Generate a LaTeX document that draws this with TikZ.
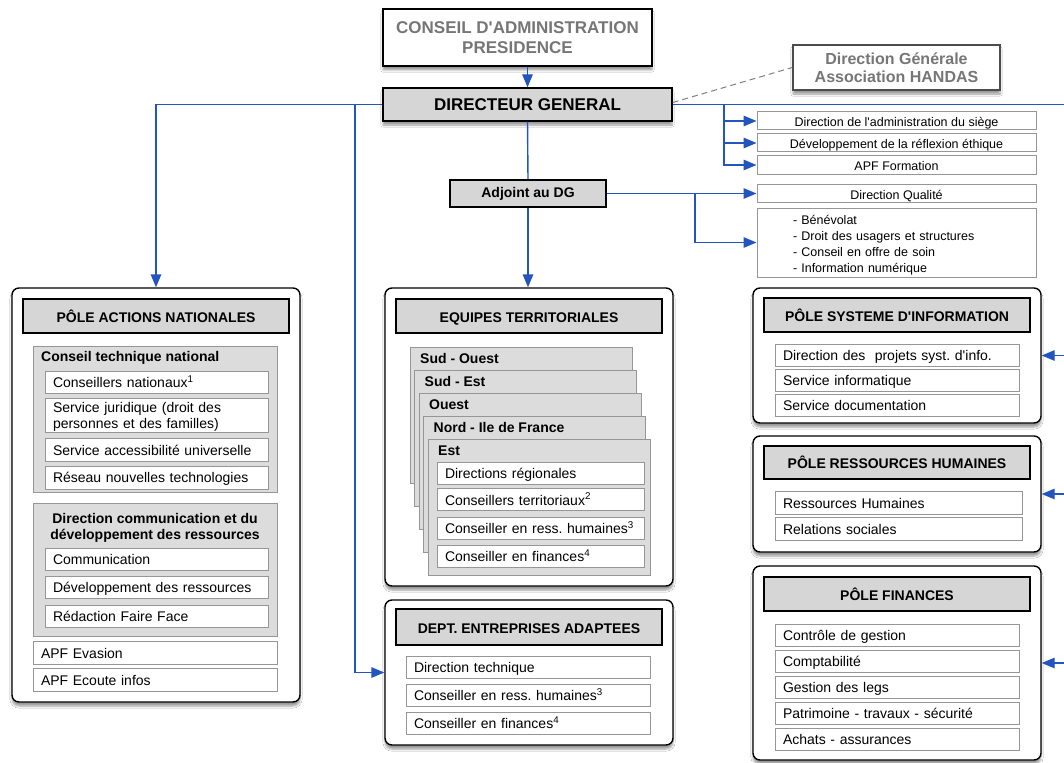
\documentclass[tikz,border=0pt]{standalone}
\usepackage{fontspec}
\setmainfont{Liberation Sans}
\usepackage{xcolor}
\usepackage{tikz}
\usetikzlibrary{arrows.meta,positioning,shadows.blur}
\definecolor{flowblue}{RGB}{35,85,190}
\definecolor{headfill}{RGB}{214,214,214}
\definecolor{grpfill}{RGB}{220,220,220}
\definecolor{boxline}{RGB}{150,150,150}
\definecolor{titlegray}{RGB}{118,118,118}
\newcommand\fitem{\fontsize{14}{16}\selectfont}
\newcommand\fhead{\bfseries\fontsize{14}{16}\selectfont}
\newcommand\fsmall{\fontsize{12.5}{16}\selectfont}
\newcommand\fbig{\bfseries\fontsize{17}{20}\selectfont}
\newcommand\fmid{\bfseries\fontsize{16}{18}\selectfont}
\newcommand\apos{\textquotesingle}
\frenchspacing
\hyphenpenalty=10000
\exhyphenpenalty=10000
\tikzset{
  flow/.style={flowblue, line width=1.4pt},
  arr/.style={flow, -{Triangle[length=13pt,width=10.5pt]}},
  shade/.style={blur shadow={shadow xshift=0pt, shadow yshift=-4pt, shadow blur steps=6, shadow opacity=40}},
  outerbox/.style={draw=black, line width=1.4pt, fill=white, rounded corners=7pt, inner sep=0pt, shade},
  headbox/.style={draw=black, line width=1.2pt, fill=headfill, minimum width=266pt, minimum height=34pt, inner sep=0pt, text height=14pt, text depth=2pt, font=\fhead},
  grpbox/.style={draw=boxline, line width=1pt, fill=grpfill, inner sep=0pt},
  itembox/.style={draw=boxline, line width=1pt, fill=white, inner xsep=8pt, inner ysep=0pt, text width=#1, align=left, minimum height=22pt, font=\fitem, execute at begin node={\rule[-2pt]{0pt}{15pt}}},
  smallbase/.style={draw=boxline, line width=1pt, fill=white, minimum width=279pt, minimum height=18pt, inner sep=0pt, font=\fsmall},
  smallbox/.style={smallbase, text height=13pt, text depth=2pt},
}

\begin{document}
\begin{tikzpicture}[x=1pt,y=-1pt]
  \useasboundingbox[fill=white] (0,0) rectangle (1064,762);
  % top of the chart
  \node[draw=black, line width=1.4pt, fill=white, shade, minimum width=269pt, minimum height=57pt, inner sep=0pt, align=center, font=\fbig, text=titlegray] (ca) at (517.5,37.5) {CONSEIL D\apos ADMINISTRATION\\PRESIDENCE};
  \node[draw=black, line width=1.4pt, fill=headfill, shade, minimum width=289pt, minimum height=33pt, inner sep=0pt, font=\fbig] (dg) at (527.5,104.5) {DIRECTEUR GENERAL};
  \node[draw=black!70, line width=1.4pt, fill=white, shade, minimum width=207pt, minimum height=45pt, inner sep=0pt, align=center, font=\fmid, text=titlegray] (dgh) at (896.5,67.5) {Direction Générale\\Association HANDAS};
  \node[draw=black, line width=1.2pt, fill=headfill, minimum width=156pt, minimum height=27pt, inner sep=0pt, font=\fhead] (adj) at (528,193.5) {Adjoint au DG};
  % services attached to the DG
  \node[smallbox] (ds1) at (896.5,121) {Direction de l\apos administration du siège};
  \node[smallbox] (ds2) at (896.5,143) {Développement de la réflexion éthique};
  \node[smallbox] (ds3) at (896.5,165) {APF Formation};
  \node[smallbox] (dq) at (896.5,193.5) {Direction Qualité};
  \node[smallbase, inner xsep=36pt, text width=207pt, align=left, minimum height=69pt] (lst) at (896.5,242.5) {\rule{0pt}{15pt}- Bénévolat\\- Droit des usagers et structures\\- Conseil en offre de soin\\- Information numérique};

  % pole actions nationales
  \node[outerbox, minimum width=288pt, minimum height=414pt] (pan) at (156,495) {};
  \node[headbox] (panh) at (156,316) {PÔLE ACTIONS NATIONALES};
  \node[grpbox, minimum width=244pt, minimum height=146pt] (ctn) at (155,419) {};
  \node[anchor=west, inner sep=0pt, font=\fhead] (ctnt) at (41,358) {Conseil technique national};
  \node[itembox=207pt] (cn1) at (156.5,382) {Conseillers nationaux\textsuperscript{1}};
  \node[itembox=207pt, minimum height=34pt] (cn2) at (156.5,415) {Service juridique (droit des personnes et des familles)};
  \node[itembox=207pt, minimum height=23pt] (cn3) at (156.5,449.5) {Service accessibilité universelle};
  \node[itembox=207pt, minimum height=23pt] (cn4) at (156.5,477.5) {Réseau nouvelles technologies};
  \node[grpbox, minimum width=244pt, minimum height=133pt] (dcr) at (155,569.5) {};
  \node[inner sep=0pt, align=center, font=\fhead] (dcrt) at (155,527.5) {Direction communication et du\\développement des ressources};
  \foreach \t [count=\i] in {Communication, Développement des ressources, Rédaction Faire Face}
    \node[itembox=207pt] (dc\i) at (156.5,{559+28.5*(\i-1)}) {\t};
  \node[itembox=228pt, minimum height=23pt] (apf1) at (155,652.5) {APF Evasion};
  \node[itembox=228pt, minimum height=23pt] (apf2) at (155,680) {APF Ecoute infos};

  % equipes territoriales
  \node[outerbox, minimum width=288pt, minimum height=298pt] (eq) at (529,437) {};
  \node[headbox] (eqh) at (529,316) {EQUIPES TERRITORIALES};
  \foreach \n [count=\i from 0] in {Sud - Ouest, Sud - Est, Ouest, Nord - Ile de France, Est} {
    \node[grpbox, minimum width=222pt, minimum height=136pt] (card\i) at ({521+4.5*\i},{415+23*\i}) {};
    \node[anchor=west, inner sep=0pt, font=\fhead] (cardt\i) at ({420+4.5*\i},{358.5+23*\i}) {\n};
  }
  \node[itembox=191pt] (est1) at (540.5,473) {Directions régionales};
  \node[itembox=191pt] (est2) at (540.5,499.5) {Conseillers territoriaux\textsuperscript{2}};
  \node[itembox=191pt] (est3) at (540.5,528) {Conseiller en ress. humaines\textsuperscript{3}};
  \node[itembox=191pt] (est4) at (540.5,556) {Conseiller en finances\textsuperscript{4}};

  % entreprises adaptees
  \node[outerbox, minimum width=288pt, minimum height=145pt] (dept) at (529,672.5) {};
  \node[headbox, minimum height=36pt] (depth) at (529,627) {DEPT. ENTREPRISES ADAPTEES};
  \node[itembox=228pt] (ea1) at (528,667) {Direction technique};
  \node[itembox=228pt] (ea2) at (528,695) {Conseiller en ress. humaines\textsuperscript{3}};
  \node[itembox=228pt] (ea3) at (528,723) {Conseiller en finances\textsuperscript{4}};

  % poles on the right
  \node[outerbox, minimum width=288pt, minimum height=135pt] (psi) at (897,355.5) {};
  \node[headbox] (psih) at (897,315) {PÔLE SYSTEME D\apos INFORMATION};
  \foreach \t [count=\i] in {Direction des\ \ projets syst. d\apos info., Service informatique, Service documentation}
    \node[itembox=228pt] (si\i) at (897,{355+25*(\i-1)}) {\t};
  \node[outerbox, minimum width=288pt, minimum height=116pt] (prh) at (897,494) {};
  \node[headbox, minimum height=33pt] (prhh) at (897,462.5) {PÔLE RESSOURCES HUMAINES};
  \node[itembox=231pt, minimum height=23pt] (rh1) at (898.5,502.5) {Ressources Humaines};
  \node[itembox=231pt, minimum height=23pt] (rh2) at (898.5,528.5) {Relations sociales};
  \node[outerbox, minimum width=288pt, minimum height=194pt] (pfi) at (897,663) {};
  \node[headbox] (pfih) at (897,594) {PÔLE FINANCES};
  \foreach \t [count=\i] in {Contrôle de gestion, Comptabilité, Gestion des legs, Patrimoine - travaux - sécurité, Achats - assurances}
    \node[itembox=228pt] (fi\i) at (897,{635+26*(\i-1)}) {\t};

  % connectors
  \coordinate (jl) at (355,104.5);
  \coordinate (jr) at (724,104.5);
  \coordinate (ja) at (695,193.5);
  \coordinate (er) at (1064,104.5);
  \coordinate (esi) at (1064,355.5);
  \coordinate (erh) at (1064,494);
  \coordinate (efi) at (1064,663);
  \draw[arr] (dg.north |- ca.south) -- (dg.north);
  \draw[gray, line width=1pt, dash pattern=on 6pt off 4pt] ([yshift=2pt]dg.east) -- (dgh.west);
  \draw[arr] (dg.west) -| (pan.north);
  \draw[arr] (jl) |- (dept.west);
  \draw[flow] (dg.east) -- (er);
  \foreach \b in {ds1,ds2,ds3}
    \draw[arr] (jr) |- (\b.west);
  \draw[flow] (dg.south) -- (adj.north);
  \draw[arr] (adj.south) -- (adj.south |- eq.north);
  \draw[arr] (adj.east) -- (dq.west);
  \draw[arr] (ja) |- (lst.west);
  \draw[arr] (esi) -- (psi.east);
  \draw[arr] (erh) -- (prh.east);
  \draw[arr] (efi) -- (pfi.east);
\end{tikzpicture}
\end{document}
